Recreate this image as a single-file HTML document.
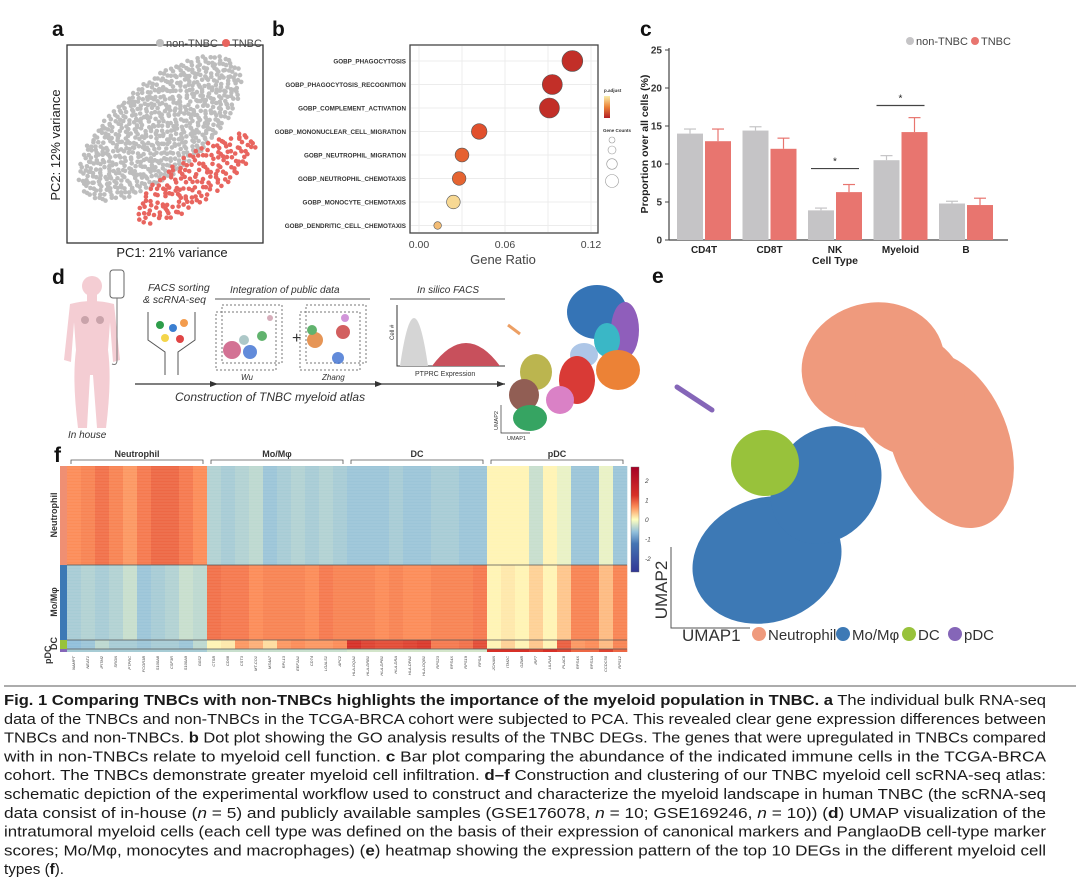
<!DOCTYPE html>
<html><head><meta charset="utf-8"><style>
body{margin:0;background:#fff;}
svg{display:block;font-family:"Liberation Sans",sans-serif;}
</style></head><body>
<svg id="fig" width="1080" height="890" viewBox="0 0 1080 890" xmlns="http://www.w3.org/2000/svg">
<g font-weight="bold" font-size="21" fill="#111">
<text x="52" y="36">a</text>
<text x="272" y="36">b</text>
<text x="640" y="36">c</text>
<text x="52" y="284">d</text>
<text x="652" y="283">e</text>
<text x="54" y="462">f</text>
</g>

<!-- Panel a -->
<g>
<rect x="67" y="45" width="196" height="198" fill="none" stroke="#333" stroke-width="1.3"/>
<g id="pca-points"></g>
<circle cx="160" cy="43" r="4" fill="#bdbdbd"/><text x="166" y="47" font-size="11" fill="#444">non-TNBC</text>
<circle cx="226" cy="43" r="4" fill="#e8655f"/><text x="232" y="47" font-size="11" fill="#444">TNBC</text>
<text transform="translate(60,145) rotate(-90)" text-anchor="middle" font-size="13" fill="#222">PC2: 12% variance</text>
<text x="172" y="257" text-anchor="middle" font-size="13" fill="#222">PC1: 21% variance</text>
</g>

<!-- Panel b -->
<g id="dot-plot"></g>

<!-- Panel c -->
<g id="bar-plot"></g>

<!-- Panel d -->
<g>
<g fill="#f4cdd3">
<circle cx="92" cy="286" r="10"/>
<rect x="87" y="294" width="10" height="8"/>
<path d="M70 304 Q92 298 114 304 L120 360 L113 362 L110 322 L108 350 Q112 380 106 428 L97 428 L93 375 L90 375 L87 428 L78 428 Q72 380 76 350 L74 322 L71 362 L64 360 Z"/>
</g>
<circle cx="85" cy="320" r="4" fill="#c9a3aa"/><circle cx="100" cy="320" r="4" fill="#c9a3aa"/>
<rect x="110" y="270" width="14" height="28" rx="3" fill="#fff" stroke="#666"/>
<path d="M117 298 L117 360 Q117 366 112 364" fill="none" stroke="#777"/>
<text x="148" y="291" font-size="10.5" font-style="italic" fill="#333">FACS sorting</text>
<text x="143" y="303" font-size="10.5" font-style="italic" fill="#333">&amp; scRNA-seq</text>
<path d="M148 312 L148 340 L165 352 L165 375 M195 312 L195 340 L178 352 L178 375" fill="none" stroke="#555"/>
<circle cx="160" cy="325" r="4" fill="#2e9d4a"/><circle cx="173" cy="328" r="4" fill="#3b7fd1"/><circle cx="184" cy="323" r="4" fill="#f39c4d"/><circle cx="165" cy="338" r="4" fill="#f4d54a"/><circle cx="180" cy="339" r="4" fill="#e04545"/>
<text x="230" y="293" font-size="10" font-style="italic" fill="#333">Integration of public data</text>
<line x1="215" y1="299" x2="370" y2="299" stroke="#555"/>
<g fill="none" stroke="#777" stroke-dasharray="2,2"><rect x="222" y="305" width="60" height="58"/><rect x="216" y="312" width="60" height="58"/><rect x="306" y="305" width="60" height="58"/><rect x="300" y="312" width="60" height="58"/></g>
<g opacity="0.8"><circle cx="232" cy="350" r="9" fill="#c9507a"/><circle cx="250" cy="352" r="7" fill="#3b6fd1"/><circle cx="262" cy="336" r="5" fill="#3aa14a"/><circle cx="244" cy="340" r="5" fill="#9bb"/><circle cx="270" cy="318" r="3" fill="#c9a"/>
<circle cx="315" cy="340" r="8" fill="#e07b2c"/><circle cx="312" cy="330" r="5" fill="#3aa14a"/><circle cx="343" cy="332" r="7" fill="#c83838"/><circle cx="338" cy="358" r="6" fill="#3b6fd1"/><circle cx="345" cy="318" r="4" fill="#c67bd0"/></g>
<text x="292" y="343" font-size="16" fill="#333">+</text>
<text x="241" y="380" font-size="8" font-style="italic" fill="#333">Wu</text>
<text x="322" y="380" font-size="8" font-style="italic" fill="#333">Zhang</text>
<text x="417" y="293" font-size="10" font-style="italic" fill="#333">In silico FACS</text>
<line x1="390" y1="299" x2="505" y2="299" stroke="#555"/>
<path d="M397 305 L397 366 L505 366" fill="none" stroke="#333"/>
<path d="M400 366 Q414 270 428 366 Z" fill="#d5d5d5"/>
<path d="M432 366 Q466 320 500 366 Z" fill="#c8505c"/>
<text transform="translate(394,340) rotate(-90)" font-size="6" fill="#333">Cell #</text>
<text x="415" y="376" font-size="7" fill="#333">PTPRC Expression</text>
<line x1="135" y1="384" x2="505" y2="384" stroke="#333" stroke-width="1.3"/>
<path d="M210 381 L218 384 L210 387Z M375 381 L383 384 L375 387Z M497 381 L505 384 L497 387Z" fill="#333"/>
<text x="175" y="401" font-size="12" font-style="italic" fill="#333">Construction of TNBC myeloid atlas</text>
<text x="68" y="438" font-size="10" font-style="italic" fill="#333">In house</text>
<g opacity="0.95">
<ellipse cx="597" cy="312" rx="30" ry="27" fill="#2b6db3"/>
<ellipse cx="625" cy="330" rx="14" ry="28" fill="#8a56b8"/>
<ellipse cx="607" cy="340" rx="13" ry="17" fill="#30b4c4"/>
<ellipse cx="618" cy="370" rx="22" ry="20" fill="#ec7c2c"/>
<ellipse cx="584" cy="355" rx="14" ry="12" fill="#a9c4e6"/>
<ellipse cx="577" cy="380" rx="18" ry="24" fill="#d8302c"/>
<ellipse cx="536" cy="372" rx="16" ry="18" fill="#b8b246"/>
<ellipse cx="560" cy="400" rx="14" ry="14" fill="#d97bc4"/>
<ellipse cx="524" cy="395" rx="15" ry="16" fill="#8c564b"/>
<ellipse cx="530" cy="418" rx="17" ry="13" fill="#2ca05a"/>
<path d="M508 325 L520 334" stroke="#ec9a5c" stroke-width="3"/>
</g>
<path d="M501 405 L501 433 L530 433" fill="none" stroke="#333" stroke-width="0.7"/>
<text transform="translate(498,430) rotate(-90)" font-size="5.5" fill="#333">UMAP2</text>
<text x="507" y="440" font-size="5.5" fill="#333">UMAP1</text>
</g>

<!-- Panel e -->
<g>
<g fill="#ef9a7d">
<ellipse cx="873" cy="365" rx="72" ry="62" transform="rotate(-15 873 365)"/>
<ellipse cx="950" cy="440" rx="58" ry="92" transform="rotate(-22 950 440)"/>
<ellipse cx="910" cy="395" rx="55" ry="60"/>
</g>
<g fill="#3d79b5">
<ellipse cx="767" cy="560" rx="76" ry="62" transform="rotate(-20 767 560)"/>
<ellipse cx="826" cy="485" rx="52" ry="62" transform="rotate(35 826 485)"/>
</g>
<ellipse cx="765" cy="463" rx="34" ry="33" fill="#98c23b"/>
<path d="M677 387 L712 410" stroke="#8566b8" stroke-width="5" stroke-linecap="round"/>
<path d="M671 547 L671 628 L750 628" fill="none" stroke="#555" stroke-width="1"/>
<text transform="translate(667,590) rotate(-90)" text-anchor="middle" font-size="17" fill="#333">UMAP2</text>
<text x="682" y="641" font-size="17" fill="#333">UMAP1</text>
<g font-size="15" fill="#333">
<circle cx="759" cy="634" r="7" fill="#ef9a7d"/><text x="768" y="640">Neutrophil</text>
<circle cx="843" cy="634" r="7" fill="#3d79b5"/><text x="852" y="640">Mo/Mφ</text>
<circle cx="909" cy="634" r="7" fill="#98c23b"/><text x="918" y="640">DC</text>
<circle cx="955" cy="634" r="7" fill="#8566b8"/><text x="964" y="640">pDC</text>
</g>
</g>

<!-- Panel f -->
<g id="heatmap"></g>

<!-- Caption -->
<g id="caption" font-size="14.5" fill="#1a1a1a"></g>
</svg>

<script>
const NS='http://www.w3.org/2000/svg';
function mk(tag,attrs,parent){const e=document.createElementNS(NS,tag);for(const k in attrs)e.setAttribute(k,attrs[k]);parent.appendChild(e);return e;}

// ---------- Panel a (PCA cloud, decorative quasi-uniform fill) ----------
(function(){
const g=document.getElementById('pca-points');
function halton(i,b){let f=1,r=0;while(i>0){f/=b;r+=f*(i%b);i=Math.floor(i/b);}return r;}
function cloud(n,cx,cy,rx,ry,ang,col){
  const a=ang*Math.PI/180;
  for(let i=1;i<=n;i++){
    const r=Math.sqrt(halton(i,2)),t=halton(i,3)*2*Math.PI;
    const u=r*Math.cos(t)*rx,v=r*Math.sin(t)*ry;
    const x=cx+u*Math.cos(a)-v*Math.sin(a),y=cy+u*Math.sin(a)+v*Math.cos(a);
    const c=mk('circle',{cx:x.toFixed(1),cy:y.toFixed(1),r:2.3,fill:col},g);
    
    
  }
}
cloud(750,160,128,100,45,-40,'#bdbdbd');
cloud(190,196,178,72,24,-35,'#e8655f');
})();

// ---------- Panel b ----------
const goTerms=['GOBP_PHAGOCYTOSIS','GOBP_PHAGOCYTOSIS_RECOGNITION','GOBP_COMPLEMENT_ACTIVATION','GOBP_MONONUCLEAR_CELL_MIGRATION','GOBP_NEUTROPHIL_MIGRATION','GOBP_NEUTROPHIL_CHEMOTAXIS','GOBP_MONOCYTE_CHEMOTAXIS','GOBP_DENDRITIC_CELL_CHEMOTAXIS'];
const geneRatio=[0.107,0.093,0.091,0.042,0.030,0.028,0.024,0.013];
const geneCount=[45,42,42,25,20,19,19,6];
const pAdjust=[0.0005,0.0005,0.0005,0.0015,0.002,0.0021,0.0042,0.0038];
const ratioTicks=[0,0.06,0.12];
(function(){
const g=document.getElementById('dot-plot');
const X=v=>419+v/0.12*172, Y=i=>61+i*23.5;
mk('rect',{x:410,y:45,width:188,height:188,fill:'#fff',stroke:'#444','stroke-width':1.3},g);
[0,0.03,0.06,0.09,0.12].forEach(t=>mk('line',{x1:X(t),x2:X(t),y1:46,y2:232,stroke:'#ececec'},g));
goTerms.forEach((t,i)=>{mk('line',{x1:411,x2:597,y1:Y(i),y2:Y(i),stroke:'#ececec'},g);
 const l=mk('text',{x:406,y:Y(i)+2.5,'text-anchor':'end','font-size':6.3,'font-weight':'bold',fill:'#333'},g);l.textContent=t;
 });
function pcol(p){const s=Math.min(1,p/0.0045);const stops=[[178,30,38],[225,80,45],[236,130,55],[250,238,170]];
 const f=s*3,k=Math.min(2,Math.floor(f)),r=f-k;const a=stops[k],b=stops[k+1];return 'rgb('+a.map((v,j)=>Math.round(v+(b[j]-v)*r)).join(',')+')';}
geneRatio.forEach((v,i)=>{const c=mk('circle',{cx:X(v),cy:Y(i),r:(Math.sqrt(geneCount[i])*1.55).toFixed(1),fill:pcol(pAdjust[i]),stroke:'#555','stroke-width':0.6},g);
 });
ratioTicks.forEach(t=>{const l=mk('text',{x:X(t),y:248,'text-anchor':'middle','font-size':10.5,fill:'#444'},g);l.textContent=t.toFixed(2);});
const xt=mk('text',{x:503,y:264,'text-anchor':'middle','font-size':13,fill:'#444'},g);xt.textContent='Gene Ratio';

mk('text',{x:604,y:92,'font-size':4.5,'font-weight':'bold',fill:'#333'},g).textContent='p.adjust';
const lg=mk('linearGradient',{id:'pg',x1:0,y1:0,x2:0,y2:1},mk('defs',{},g));
mk('stop',{offset:0,'stop-color':'#faeeaa'},lg);mk('stop',{offset:0.5,'stop-color':'#ec8237'},lg);mk('stop',{offset:1,'stop-color':'#b21e26'},lg);
mk('rect',{x:604,y:96,width:6,height:22,fill:'url(#pg)'},g);
mk('text',{x:603,y:132,'font-size':4.5,'font-weight':'bold',fill:'#333'},g).textContent='Gene Counts';
[[140,3],[150,4],[164,5.3],[181,6.5]].forEach(a=>mk('circle',{cx:612,cy:a[0],r:a[1],fill:'none',stroke:'#999','stroke-width':0.6},g));
})();

// ---------- Panel c ----------
const cellTypes=['CD4T','CD8T','NK','Myeloid','B'];
const nonTnbc=[14.0,14.4,3.9,10.5,4.8];
const nonTnbcErr=[0.6,0.5,0.3,0.6,0.3];
const tnbc=[13.0,12.0,6.3,14.2,4.6];
const tnbcErr=[1.6,1.4,1.0,1.9,0.9];
const yTicks=[0,5,10,15,20,25];
const sigBars=[[2,9.4],[3,17.7]];
(function(){
const g=document.getElementById('bar-plot');
const Y=v=>240-v*7.6, Xc=i=>704+i*65.5, bw=26;
mk('line',{x1:669,x2:669,y1:48,y2:240,stroke:'#444','stroke-width':1.2},g);
mk('line',{x1:669,x2:1008,y1:240,y2:240,stroke:'#444','stroke-width':1.2},g);
yTicks.forEach(t=>{mk('line',{x1:665,x2:669,y1:Y(t),y2:Y(t),stroke:'#444'},g);
 const l=mk('text',{x:662,y:Y(t)+3.5,'text-anchor':'end','font-size':10,'font-weight':'bold',fill:'#333'},g);l.textContent=t;});
function bar(x,v,e,col,ecol,name){
 mk('line',{x1:x+bw/2,x2:x+bw/2,y1:Y(v),y2:Y(v+e),stroke:ecol,'stroke-width':1.2},g);
 mk('line',{x1:x+bw/2-6,x2:x+bw/2+6,y1:Y(v+e),y2:Y(v+e),stroke:ecol,'stroke-width':1.2},g);
 const r=mk('rect',{x:x,y:Y(v),width:bw,height:240-Y(v),fill:col},g);
 }
cellTypes.forEach((c,i)=>{
 bar(Xc(i)-bw-1,nonTnbc[i],nonTnbcErr[i],'#c5c4c6','#c5c4c6','bar-non-tnbc');
 bar(Xc(i)+1,tnbc[i],tnbcErr[i],'#e8756f','#e8756f','bar-tnbc');
 const l=mk('text',{x:Xc(i),y:253,'text-anchor':'middle','font-size':10,'font-weight':'bold',fill:'#222'},g);l.textContent=c;});
sigBars.forEach(s=>{mk('line',{x1:Xc(s[0])-24,x2:Xc(s[0])+24,y1:Y(s[1]),y2:Y(s[1]),stroke:'#444','stroke-width':1.2},g);
 mk('text',{x:Xc(s[0]),y:Y(s[1])-4,'text-anchor':'middle','font-size':10,fill:'#222'},g).textContent='*';});
const yt=mk('text',{transform:'translate(648,144) rotate(-90)','text-anchor':'middle','font-size':10.5,'font-weight':'bold',fill:'#222'},g);yt.textContent='Proportion over all cells (%)';

const xt=mk('text',{x:835,y:264,'text-anchor':'middle','font-size':10.5,'font-weight':'bold',fill:'#222'},g);xt.textContent='Cell Type';
mk('circle',{cx:910,cy:41,r:4,fill:'#c5c4c6'},g);mk('text',{x:916,y:45,'font-size':11,fill:'#444'},g).textContent='non-TNBC';
mk('circle',{cx:975,cy:41,r:4,fill:'#e8756f'},g);mk('text',{x:981,y:45,'font-size':11,fill:'#444'},g).textContent='TNBC';
})();

// ---------- Panel f ----------
const geneGroups=['Neutrophil','Mo/Mφ','DC','pDC'];
const genes=['NAMPT','NEAT1','IFITM2','SRGN','PTPRC','FCGR3B','S100A8','CSF3R','S100A9','G0S2',
'CTSB','CD68','CST3','MT-CO1','MS4A7','RPL13','EEF1A1','CD74','LGALS1','APC2',
'HLA-DQA1','HLA-DRB1','HLA-DPB1','HLA-DRA','HLA-DPA1','HLA-DQB1','RPS23','RPS4X','RPS19','RPSA',
'JCHAIN','ITM2C','GZMB','IRF7','LILRA4','PLAC8','RPS4X','RPS3A','CCDC50','RPS12'];
const blockNames=['Neutrophil','Mo/Mφ','DC','pDC'];
const blockColors=['#ef8f73','#3d79b5','#98c23b','#8566b8'];
const neutroRows=[1.0,1.1,1.3,1.1,0.9,1.2,1.4,1.4,1.2,1.0, -0.7,-0.8,-0.7,-0.6,-0.9,-0.8,-0.7,-0.8,-0.7,-0.8, -0.9,-0.9,-0.9,-0.8,-0.9,-0.9,-0.8,-0.8,-0.9,-0.9, 0.1,0.1,0.1,-0.5,0.1,-0.2,-0.9,-0.9,-0.2,-0.9];
const moRows=[-0.8,-0.7,-0.8,-0.7,-0.5,-0.9,-0.8,-0.7,-0.5,-0.6, 1.3,1.2,1.2,1.0,1.1,1.1,1.1,1.0,1.2,1.1, 1.1,1.1,1.0,1.1,1.0,1.0,1.1,1.1,1.1,1.2, 0.1,0.2,0.1,0.4,0.1,0.5,1.1,1.1,0.6,1.1];
const dcRows=[-1.0,-0.9,-0.6,-0.8,-0.8,-0.9,-0.8,-0.8,-0.9,-0.6, 0.1,0.2,0.9,0.7,0.3,0.9,1.0,0.9,0.9,1.0, 2.0,1.8,1.7,1.7,1.8,1.9,1.2,1.2,1.3,1.7, 0.1,0.4,0.1,0.5,0.1,1.5,0.9,1.0,0.6,1.1];
const pdcRows=[-0.8,-0.8,-0.8,-0.8,-0.8,-0.8,-0.8,-0.8,-0.8,-0.8, -0.5,-0.5,-0.5,-0.5,-0.5,-0.5,-0.5,-0.5,-0.5,-0.5, -0.4,-0.4,-0.4,-0.4,-0.4,-0.4,-0.4,-0.4,-0.4,-0.4, 2.0,2.0,2.0,1.8,2.0,1.8,1.4,1.4,1.8,1.4];
const colorTicks=[2,1,0,-1,-2];
(function(){
const g=document.getElementById('heatmap');
const x0=67,x1=627,cw=(x1-x0)/40;
const blocks=[[neutroRows,466,565],[moRows,565,640],[dcRows,640,649],[pdcRows,649,652]];
const stops=[[-2.6,[49,54,149]],[-2,[69,117,180]],[-1,[145,191,219]],[0,[255,255,191]],[1,[252,141,89]],[2,[215,48,39]],[2.6,[165,0,38]]];
function col(v){v=Math.max(-2.6,Math.min(2.6,v));for(let k=0;k<stops.length-1;k++){const a=stops[k],b=stops[k+1];if(v<=b[0]){const r=(v-a[0])/(b[0]-a[0]);return 'rgb('+a[1].map((c,j)=>Math.round(c+(b[1][j]-c)*r)).join(',')+')';}}return 'rgb(165,0,38)';}
blocks.forEach((b,bi)=>{
 b[0].forEach((v,j)=>{const r=mk('rect',{x:(x0+j*cw).toFixed(2),y:b[1],width:(cw+0.3).toFixed(2),height:b[2]-b[1],fill:col(v)},g);
  });
 const a=mk('rect',{x:60,y:b[1],width:7,height:b[2]-b[1],fill:blockColors[bi]},g);
 
});
for(let y=468;y<649;y+=3){mk('line',{x1:x0,x2:x1,y1:y,y2:y,stroke:'rgba(255,255,255,0.10)','stroke-width':1},g);}
[565,640,649].forEach(y=>mk('line',{x1:x0,x2:x1,y1:y,y2:y,stroke:'#555','stroke-width':0.8},g));
geneGroups.forEach((n,i)=>{const xa=x0+i*10*cw+4,xb=x0+(i+1)*10*cw-4;
 mk('path',{d:`M${xa} 464 L${xa} 460 L${xb} 460 L${xb} 464`,fill:'none',stroke:'#555','stroke-width':0.8},g);
 const t=mk('text',{x:(xa+xb)/2,y:457,'text-anchor':'middle','font-size':9,'font-weight':'bold',fill:'#333'},g);t.textContent=n;});
genes.forEach((n,j)=>{const x=x0+(j+0.5)*cw+1;const t=mk('text',{transform:`translate(${x},656) rotate(-90)`,'text-anchor':'end','font-size':4,'font-style':'italic',fill:'#444'},g);t.textContent=n;});
[['Neutrophil',515],['Mo/Mφ',602]].forEach(a=>{mk('text',{transform:`translate(57,${a[1]}) rotate(-90)`,'text-anchor':'middle','font-size':9,'font-weight':'bold',fill:'#333'},g).textContent=a[0];});
mk('text',{transform:'translate(57,650) rotate(-90)','font-size':9,'font-weight':'bold',fill:'#333'},g).textContent='DC';
mk('text',{transform:'translate(51,664) rotate(-90)','font-size':9,'font-weight':'bold',fill:'#333'},g).textContent='pDC';
const gd=mk('linearGradient',{id:'hg',x1:0,y1:0,x2:0,y2:1},mk('defs',{},g));
[[0,'#a50026'],[0.27,'#d73027'],[0.38,'#fc8d59'],[0.5,'#ffffbf'],[0.62,'#91bfdb'],[0.73,'#4575b4'],[1,'#313695']].forEach(s=>mk('stop',{offset:s[0],'stop-color':s[1]},gd));
const cb=mk('rect',{x:631,y:467,width:8,height:105,fill:'url(#hg)',stroke:'#666','stroke-width':0.4},g);

colorTicks.forEach(t=>{const y=519.5-t*19.5;mk('text',{x:645,y:y+2.5,'font-size':6.5,'font-style':'italic',fill:'#444'},g).textContent=t;});
})();

// ---------- Caption ----------
(function(){
const g=document.getElementById('caption');
const lines=[
['<tspan font-weight="bold">Fig. 1   Comparing TNBCs with non-TNBCs highlights the importance of the myeloid population in TNBC. a</tspan> The individual bulk RNA-seq',1046],
['data of the TNBCs and non-TNBCs in the TCGA-BRCA cohort were subjected to PCA. This revealed clear gene expression differences between',1046],
['TNBCs and non-TNBCs. <tspan font-weight="bold">b</tspan> Dot plot showing the GO analysis results of the TNBC DEGs. The genes that were upregulated in TNBCs compared',1046],
['with in non-TNBCs relate to myeloid cell function. <tspan font-weight="bold">c</tspan> Bar plot comparing the abundance of the indicated immune cells in the TCGA-BRCA',1046],
['cohort. The TNBCs demonstrate greater myeloid cell infiltration. <tspan font-weight="bold">d–f</tspan> Construction and clustering of our TNBC myeloid cell scRNA-seq atlas:',1046],
['schematic depiction of the experimental workflow used to construct and characterize the myeloid landscape in human TNBC (the scRNA-seq',1046],
['data consist of in-house (<tspan font-style="italic">n</tspan> = 5) and publicly available samples (GSE176078, <tspan font-style="italic">n</tspan> = 10; GSE169246, <tspan font-style="italic">n</tspan> = 10)) (<tspan font-weight="bold">d</tspan>) UMAP visualization of the',1046],
['intratumoral myeloid cells (each cell type was defined on the basis of their expression of canonical markers and PanglaoDB cell-type marker',1046],
['scores; Mo/Mφ, monocytes and macrophages) (<tspan font-weight="bold">e</tspan>) heatmap showing the expression pattern of the top 10 DEGs in the different myeloid cell',1046],
['types (<tspan font-weight="bold">f</tspan>).',64]];
mk('line',{x1:4,x2:1076,y1:686,y2:686,stroke:'#222','stroke-width':0.8},g);
lines.forEach((l,i)=>{const t=mk('text',{x:4,y:705+i*18.8,textLength:l[1]-4,lengthAdjust:'spacingAndGlyphs'},g);t.innerHTML=l[0];
 });
})();
</script>
</body></html>
